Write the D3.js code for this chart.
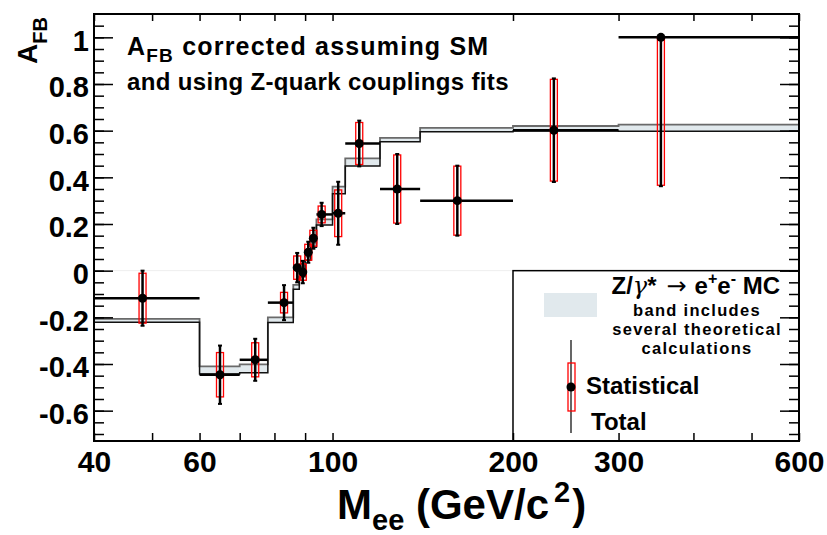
<!DOCTYPE html>
<html>
<head>
<meta charset="utf-8">
<script src="https://cdn.jsdelivr.net/npm/d3@7"></script>
<style>
  body { margin: 0; background: #fff; }
  svg { display: block; font-family: "Liberation Sans", Arial, Helvetica, sans-serif; font-weight: bold; }
</style>
</head>
<body>
<div id="chart"></div>
<script>
'use strict';

// mass bins (GeV/c^2)
const binLo = [40, 60, 70, 78, 86, 88, 90, 92, 94, 100, 105, 120, 140, 200, 300];
const binHi = [60, 70, 78, 86, 88, 90, 92, 94, 100, 105, 120, 140, 200, 300, 600];

// measured points
const massMean = [48.2, 64.9, 74.3, 83.0, 87.3, 89.2, 91.1, 92.9, 95.9, 102.2, 110.8, 128.2, 161.5, 234, 353];
const afb      = [-0.118, -0.446, -0.382, -0.137, 0.013, -0.006, 0.079, 0.139, 0.241, 0.246, 0.545, 0.35, 0.30, 0.602, 1.0];
const statUp   = [0.107, 0.095, 0.073, 0.044, 0.05, 0.035, 0.034, 0.034, 0.036, 0.10, 0.09, 0.146, 0.148, 0.218, 0.0];
const statDown = [0.107, 0.095, 0.073, 0.044, 0.05, 0.035, 0.034, 0.034, 0.036, 0.10, 0.09, 0.146, 0.148, 0.218, 0.634];
const totUp    = [0.118, 0.125, 0.09, 0.075, 0.063, 0.048, 0.045, 0.045, 0.05, 0.135, 0.098, 0.15, 0.15, 0.222, 0.0];
const totDown  = [0.118, 0.125, 0.09, 0.075, 0.063, 0.048, 0.045, 0.045, 0.05, 0.135, 0.098, 0.15, 0.15, 0.222, 0.638];

// MC band (lower / upper edge per bin)
const mcLow  = [-0.221, -0.443, -0.438, -0.222, -0.08, -0.026, 0.045, 0.10, 0.196, 0.33, 0.449, 0.552, 0.595, 0.599, 0.598];
const mcHigh = [-0.207, -0.41, -0.402, -0.2, -0.061, -0.01, 0.06, 0.12, 0.22, 0.36, 0.481, 0.569, 0.612, 0.62, 0.626];

// axis ticks
const xTickValues = [40, 50, 60, 70, 80, 90, 100, 200, 300, 400, 500, 600];
const xTickLabels = [40, 60, 100, 200, 300, 600];
const yMajorTicks = [-0.6, -0.4, -0.2, 0, 0.2, 0.4, 0.6, 0.8, 1];
const yMinorTicks = d3.range(-14, 22).map(i => +(i * 0.05).toFixed(2));

let width = 827,
    height = 535,
    margin = {
        top: 14,
        right: 28,
        bottom: 94,
        left: 94
    };

let svg = d3.select('#chart')
    .append('svg')
    .attr('width', width)
    .attr('height', height);

let x = d3.scaleLog().domain([40, 600]).range([margin.left, width - margin.right]);
let y = d3.scaleLinear().domain([-0.73, 1.1]).range([height - margin.bottom, margin.top]);

// faint zero line
svg.append('line')
    .attr('x1', x(40)).attr('x2', x(200))
    .attr('y1', y(0)).attr('y2', y(0))
    .style('stroke', '#eeeeee')
    .style('stroke-width', 1);

// MC band
let gBand = svg.append('g');
gBand.selectAll('rect')
    .data(binLo)
    .enter().append('rect')
    .attr('x', d => x(d))
    .attr('width', (d, i) => x(binHi[i]) - x(d))
    .attr('y', (d, i) => y(mcHigh[i]))
    .attr('height', (d, i) => y(mcLow[i]) - y(mcHigh[i]))
    .style('fill', '#e1e9ed');

let step = d3.line()
    .x(d => x(d[0]))
    .y(d => y(d[1]))
    .curve(d3.curveStepAfter);

let last = binLo.length - 1;
let hiPts = binLo.map((d, i) => [d, mcHigh[i]]).concat([[600, mcHigh[last]]]);
let loPts = binLo.map((d, i) => [d, mcLow[i]]).concat([[600, mcLow[last]]]);

gBand.append('path')
    .attr('d', step(hiPts))
    .style('fill', 'none')
    .style('stroke', '#6a6a6a')
    .style('stroke-width', 1.8);
gBand.append('path')
    .attr('d', step(loPts))
    .style('fill', 'none')
    .style('stroke', '#111')
    .style('stroke-width', 1.5);

// data points
let gData = svg.append('g');
let idx = d3.range(massMean.length);

// horizontal (bin) bars
gData.selectAll('.hbar')
    .data(idx)
    .enter().append('line')
    .attr('class', 'hbar')
    .attr('x1', i => x(binLo[i]))
    .attr('x2', i => x(binHi[i]))
    .attr('y1', i => y(afb[i]))
    .attr('y2', i => y(afb[i]))
    .style('stroke', '#000')
    .style('stroke-width', 2.5);

// statistical boxes
gData.selectAll('.stat')
    .data(idx)
    .enter().append('rect')
    .attr('class', 'stat')
    .attr('x', i => x(massMean[i]) - 3.5)
    .attr('width', 7)
    .attr('y', i => y(afb[i] + statUp[i]))
    .attr('height', i => y(afb[i] - statDown[i]) - y(afb[i] + statUp[i]))
    .style('fill', 'none')
    .style('stroke', '#ff0000')
    .style('stroke-width', 1.3);

// total error bars
gData.selectAll('.vbar')
    .data(idx)
    .enter().append('line')
    .attr('class', 'vbar')
    .attr('x1', i => x(massMean[i]))
    .attr('x2', i => x(massMean[i]))
    .attr('y1', i => y(afb[i] + totUp[i]))
    .attr('y2', i => y(afb[i] - totDown[i]))
    .style('stroke', '#000')
    .style('stroke-width', 2.5);

// small caps at bar ends
gData.selectAll('.vcap')
    .data(idx.flatMap(i => [[i, afb[i] + totUp[i]], [i, afb[i] - totDown[i]]]))
    .enter().append('line')
    .attr('class', 'vcap')
    .attr('x1', d => x(massMean[d[0]]) - 2)
    .attr('x2', d => x(massMean[d[0]]) + 2)
    .attr('y1', d => y(d[1]))
    .attr('y2', d => y(d[1]))
    .style('stroke', '#000')
    .style('stroke-width', 2);

gData.selectAll('circle')
    .data(idx)
    .enter().append('circle')
    .attr('cx', i => x(massMean[i]))
    .attr('cy', i => y(afb[i]))
    .attr('r', 4.5)
    .style('fill', '#000');

// legend box
let gLeg = svg.append('g');
gLeg.append('rect')
    .attr('x', x(200)).attr('y', y(0))
    .attr('width', x(600) - x(200))
    .attr('height', y(-0.73) - y(0))
    .style('fill', '#fff')
    .style('stroke', '#000')
    .style('stroke-width', 1.5);

gLeg.append('rect')
    .attr('x', 544).attr('y', 293)
    .attr('width', 53).attr('height', 24)
    .style('fill', '#e1e9ed');

let zText = gLeg.append('text')
    .attr('x', 780).attr('y', 294)
    .attr('text-anchor', 'end')
    .style('font-size', '24px');
zText.append('tspan').text('Z/');
zText.append('tspan').style('font-family', '"DejaVu Serif", serif').style('font-style', 'italic')
    .style('font-weight', 'normal').text('γ');
zText.append('tspan').text('*');
zText.append('tspan').attr('dx', 10).style('font-family', '"DejaVu Sans", sans-serif')
    .style('font-weight', 'normal').text('\u2192');
zText.append('tspan').attr('dx', 8).text('e');
zText.append('tspan').attr('dy', -10).style('font-size', '16px').text('+');
zText.append('tspan').attr('dy', 10).text('e');
zText.append('tspan').attr('dy', -10).style('font-size', '16px').text('-');
zText.append('tspan').attr('dy', 10).text(' MC');

[['band includes', 316], ['several theoretical', 335], ['calculations', 354]].forEach(function(t) {
    gLeg.append('text')
        .attr('x', 697).attr('y', t[1])
        .attr('text-anchor', 'middle')
        .style('font-size', '16.5px')
        .style('letter-spacing', '1.3px')
        .text(t[0]);
});

gLeg.append('line')
    .attr('x1', 571).attr('x2', 571)
    .attr('y1', 340).attr('y2', 433)
    .style('stroke', '#000').style('stroke-width', 1.2);
gLeg.append('rect')
    .attr('x', 568).attr('y', 363)
    .attr('width', 7).attr('height', 48)
    .style('fill', 'none').style('stroke', '#ff0000').style('stroke-width', 1.3);
gLeg.append('circle')
    .attr('cx', 571).attr('cy', 387).attr('r', 4.5)
    .style('fill', '#000');
gLeg.append('text')
    .attr('x', 586).attr('y', 394)
    .style('font-size', '24px')
    .text('Statistical');
gLeg.append('text')
    .attr('x', 591).attr('y', 430)
    .style('font-size', '24px')
    .text('Total');

// axes
let fmtY = d => (d === 0 ? '0' : String(+d.toFixed(1)));

let gX = svg.append('g')
    .attr('transform', 'translate(0,' + y(-0.73) + ')')
    .call(d3.axisBottom(x).tickValues(xTickValues).tickSize(-8).tickPadding(10)
        .tickFormat(d => (xTickLabels.indexOf(d) >= 0 ? d : '')));
let gXtop = svg.append('g')
    .attr('transform', 'translate(0,' + y(1.1) + ')')
    .call(d3.axisTop(x).tickValues(xTickValues).tickSize(-7).tickFormat(''));

let gY = svg.append('g')
    .attr('transform', 'translate(' + x(40) + ',0)')
    .call(d3.axisLeft(y).tickValues(yMajorTicks).tickSize(-19).tickPadding(5).tickFormat(fmtY));
let gYminor = svg.append('g')
    .attr('transform', 'translate(' + x(40) + ',0)')
    .call(d3.axisLeft(y).tickValues(yMinorTicks).tickSize(-10).tickFormat(''));
let gYr = svg.append('g')
    .attr('transform', 'translate(' + x(600) + ',0)')
    .call(d3.axisRight(y).tickValues(yMajorTicks).tickSize(-19).tickFormat(''));
let gYrMinor = svg.append('g')
    .attr('transform', 'translate(' + x(600) + ',0)')
    .call(d3.axisRight(y).tickValues(yMinorTicks).tickSize(-10).tickFormat(''));

svg.selectAll('.domain').remove();
svg.selectAll('.tick line').style('stroke', '#000').style('stroke-width', 1.5);
svg.selectAll('.tick text')
    .style('font-family', '"Liberation Sans", Arial, sans-serif')
    .style('font-weight', 'bold')
    .style('fill', '#000');
gX.selectAll('.tick text').style('font-size', '30px');
gY.selectAll('.tick text').style('font-size', '29px').attr('dy', '0.44em');

// frame
svg.append('rect')
    .attr('x', x(40)).attr('y', y(1.1))
    .attr('width', x(600) - x(40))
    .attr('height', y(-0.73) - y(1.1))
    .style('fill', 'none')
    .style('stroke', '#000')
    .style('stroke-width', 2);

// axis titles
let xTitle = svg.append('text')
    .attr('x', 337).attr('y', 519)
    .style('font-size', '42px');
xTitle.append('tspan').text('M');
xTitle.append('tspan').attr('dy', 11).style('font-size', '29px').text('ee');
xTitle.append('tspan').attr('dy', -11).text(' (GeV/c');
xTitle.append('tspan').attr('dx', 5).attr('dy', -17).style('font-size', '29px').text('2');
xTitle.append('tspan').attr('dx', 2).attr('dy', 17).text(')');

let yTitle = svg.append('text')
    .attr('transform', 'translate(37,64) rotate(-90)')
    .style('font-size', '28px');
yTitle.append('tspan').text('A');
yTitle.append('tspan').attr('dy', 10).style('font-size', '20px').text('FB');

// plot caption
let cap1 = svg.append('text')
    .attr('x', 127).attr('y', 55)
    .style('font-size', '25px')
    .style('letter-spacing', '1.2px');
cap1.append('tspan').text('A');
cap1.append('tspan').attr('dy', 7).style('font-size', '19px').text('FB');
cap1.append('tspan').attr('dy', -7).text(' corrected assuming SM');

svg.append('text')
    .attr('x', 127).attr('y', 90)
    .style('font-size', '24px')
    .style('letter-spacing', '0.35px')
    .text('and using Z-quark couplings fits');
</script>
</body>
</html>
